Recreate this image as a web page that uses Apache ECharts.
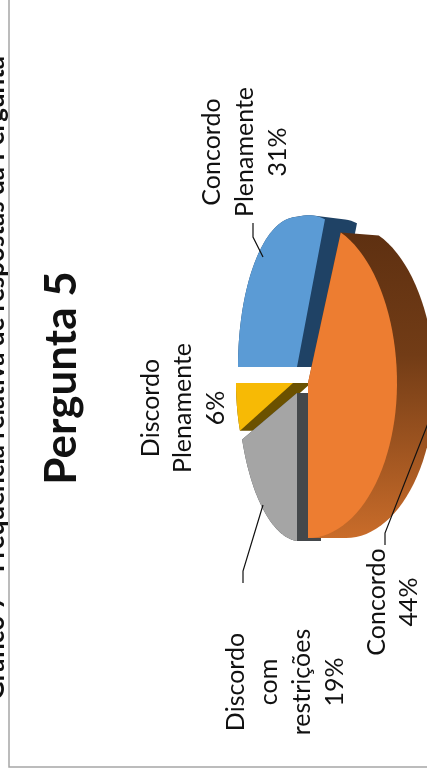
<!DOCTYPE html>
<html>
<head>
<meta charset="utf-8">
<style>html,body{margin:0;padding:0;background:#fff}#c{width:427px;height:776px}</style>
<script src="https://cdn.jsdelivr.net/npm/echarts@6/dist/echarts.min.js"></script>
</head>
<body>
<div id="c"></div>
<script>
const categories = ['Concordo', 'Concordo Plenamente', 'Discordo Plenamente', 'Discordo com restrições'];
const percents = [44, 31, 6, 19];
const chartTitle = 'Pergunta 5';
const caption = 'Gráfico 7 - Frequência relativa de respostas da Pergunta';

const FONT = 'Lato, "Noto Sans", sans-serif';
const INK = '#111111';
const gradient = (stops) => new echarts.graphic.LinearGradient(0, 0, 0, 1, stops);

// Look of each slice: centre, flattened radii and extrusion of the tilted pie.
const sliceLooks = [
  { cx: 308, cy: 383, r: 89, l: 89, t: 162, b: 155, d: 38, drop: 3, z: 4, face: '#ED7D31',
    wall: gradient([{ offset: 0, color: '#5E3011' }, { offset: 0.4, color: '#723C16' }, { offset: 1, color: '#C96C2A' }]) },
  { cx: 297, cy: 367, r: 76, l: 59, t: 150, b: 150, d: 32, drop: 4, z: 1, shearR: -0.3, face: '#5B9BD5', wall: '#1F4265' },
  { cx: 293, cy: 383, r: 57, l: 57, t: 130, b: 130, d: 18, drop: 0, z: 2, face: '#F7BA05', wall: '#6B5100' },
  { cx: 297, cy: 393, r: 59, l: 59, t: 148, b: 148, d: 24, drop: 0, z: 3, shearL: 0.145, face: '#A5A5A5', wall: '#44484B' }
];

function project(look, deg) {
  const a = deg * Math.PI / 180;
  const s = Math.sin(a), c = Math.cos(a);
  const dx = s * (s >= 0 ? look.r : look.l);
  let dy = c * (c >= 0 ? look.b : look.t);
  if (dx > 0 && look.shearR) dy += look.shearR * dx;
  if (dx < 0 && look.shearL) dy += look.shearL * dx;
  return [look.cx + dx, look.cy + dy];
}

function hull(points) {
  const p = points.slice().sort((a, b) => a[0] - b[0] || a[1] - b[1]);
  const cross = (o, a, b) => (a[0] - o[0]) * (b[1] - o[1]) - (a[1] - o[1]) * (b[0] - o[0]);
  const half = (list) => {
    const out = [];
    for (const q of list) {
      while (out.length > 1 && cross(out[out.length - 2], out[out.length - 1], q) <= 0) out.pop();
      out.push(q);
    }
    out.pop();
    return out;
  };
  return half(p).concat(half(p.slice().reverse()));
}

function renderSlice(params, api) {
  const i = params.dataIndex;
  const look = sliceLooks[i];
  const total = percents.reduce((a, b) => a + b, 0);
  const before = percents.slice(0, i).reduce((a, b) => a + b, 0);
  const start = before / total * 360;
  const end = start + api.value(0) / total * 360;
  const face = [[look.cx, look.cy]];
  const steps = 48;
  for (let k = 0; k <= steps; k++) face.push(project(look, start + (end - start) * k / steps));
  const moved = face.map(p => [p[0] + look.d, p[1] < look.cy ? p[1] + look.drop : p[1]]);
  return {
    type: 'group',
    children: [
      { type: 'polygon', z2: look.z * 2, shape: { points: hull(face.concat(moved)) }, style: { fill: look.wall } },
      { type: 'polygon', z2: look.z * 2 + 1, shape: { points: face }, style: { fill: look.face } }
    ]
  };
}

function rotatedText(text, x, y, size, weight, lineHeight) {
  return {
    type: 'text', x: x, y: y, rotation: Math.PI / 2, silent: true,
    style: { text: text, fill: INK, font: (weight || 'normal') + ' ' + size + 'px ' + FONT,
      textAlign: 'center', textVerticalAlign: 'middle', lineHeight: lineHeight }
  };
}

function leader(points) {
  return { type: 'polyline', silent: true, z: 20, shape: { points: points },
    style: { stroke: '#111', lineWidth: 1.2, fill: null } };
}

const labelText = (i) => categories[i].split(' ').join('\n') + '\n' + percents[i] + '%';

const chart = echarts.init(document.getElementById('c'));
chart.setOption({
  animation: false,
  backgroundColor: '#fff',
  series: [{
    type: 'custom',
    coordinateSystem: 'none',
    silent: true,
    renderItem: renderSlice,
    data: categories.map((name, i) => ({ name: name, value: [percents[i]] }))
  }],
  graphic: [
    { type: 'polyline', silent: true, shape: { points: [[9, -2], [9, 767], [430, 767]] }, style: { stroke: '#A6A6A6', lineWidth: 1.5, fill: null } },
    rotatedText(caption, -4, 378, 26, 'bold', 30),
    rotatedText(chartTitle, 62, 378, 44, 'bold', 50),
    rotatedText(labelText(0), 393, 602, 25, 'normal', 32.5),
    rotatedText(labelText(1), 245, 152, 25, 'normal', 33),
    rotatedText(labelText(2), 183, 408, 25, 'normal', 32.5),
    rotatedText(labelText(3), 285, 682, 25, 'normal', 33),
    leader([[263, 257], [253, 237], [253, 223]]),
    leader([[263, 505], [243, 571], [243, 583]]),
    leader([[436, 403], [385, 533], [385, 545]])
  ]
});
</script>
</body>
</html>
